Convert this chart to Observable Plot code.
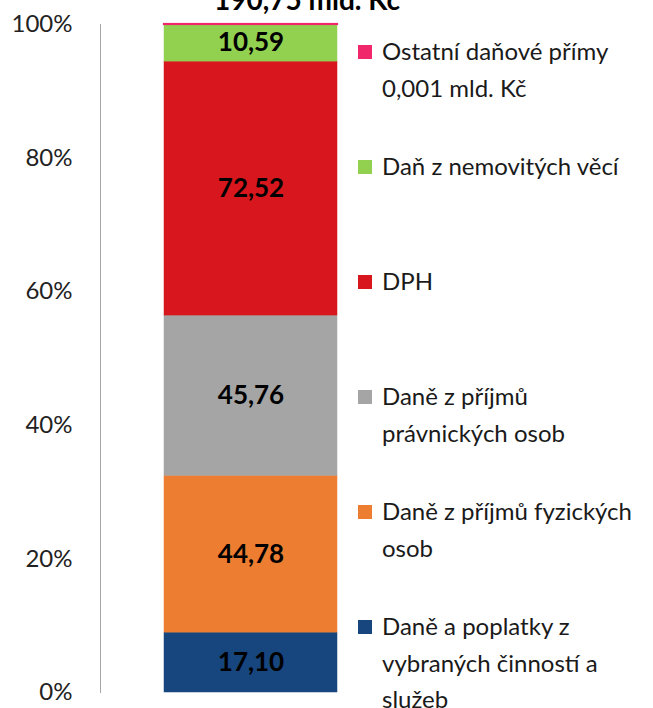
<!DOCTYPE html>
<html>
<head>
<meta charset="utf-8">
<script src="https://cdn.jsdelivr.net/npm/d3@7"></script>
<script src="https://cdn.jsdelivr.net/npm/@observablehq/plot@0.6"></script>
<style>
  body { margin: 0; background: #fff; }
  #wrap { position: relative; width: 653px; height: 708px; overflow: hidden; font-family: Lato, "Open Sans", sans-serif; }
  #legend { position: absolute; left: 0; top: 0; }
  .item { position: absolute; left: 358px; display: flex; align-items: flex-start; font-size: 24px; line-height: 36.5px; color: #1a1a1a; white-space: nowrap; }
  .sw { width: 14px; height: 14px; margin-top: 12px; margin-right: 10px; flex: none; }
</style>
</head>
<body>
<div id="wrap"><div id="legend"></div></div>
<script>
// Categories, bottom to top of the stack
const categories = [
  "Daně a poplatky z vybraných činností a služeb",
  "Daně z příjmů fyzických osob",
  "Daně z příjmů právnických osob",
  "DPH",
  "Daň z nemovitých věcí",
  "Ostatní daňové přímy"
];
// Values in mld. Kč
const values = [17.10, 44.78, 45.76, 72.52, 10.59, 0.001];
const colors = ["#17457E", "#ED7D31", "#A5A5A5", "#D7171D", "#92D050", "#F0276B"];
// Legend labels
const legendLabels = [
  "Daně a poplatky z<br>vybraných činností a<br>služeb",
  "Daně z příjmů fyzických<br>osob",
  "Daně z příjmů<br>právnických osob",
  "DPH",
  "Daň z nemovitých věcí",
  "Ostatní daňové přímy<br>0,001 mld. Kč"
];
const yTicks = [0, 0.2, 0.4, 0.6, 0.8, 1];

const data = categories.map((c, i) => ({name: c, value: values[i], order: i}));
const total = d3.sum(values);
const fmt = v => v.toFixed(2).replace(".", ",");
const titleText = fmt(total) + " mld. Kč";

const plot = Plot.plot({
  width: 653,
  height: 708,
  marginTop: 24,
  marginBottom: 16,
  marginLeft: 100,
  marginRight: 10,
  style: {fontFamily: "Lato, 'Open Sans', sans-serif", overflow: "visible"},
  x: {domain: ["total"], range: [164, 337], padding: 0, axis: null},
  y: {domain: [0, 1], ticks: yTicks},
  color: {domain: categories, range: colors},
  marks: [
    Plot.frame({anchor: "left", stroke: "#A6A6A6", strokeOpacity: 1}),
    Plot.axisY({ticks: yTicks, tickFormat: d => Math.round(d * 100) + "%", tickSize: 0, tickPadding: 28, fontSize: 24, fill: "#222", label: null}),
    Plot.barY(data, Plot.stackY({
      offset: "normalize", order: "order",
      x: () => "total", y: "value", fill: "name",
      stroke: "name", strokeWidth: d => d.value < 1 ? 2.2 : 0.5
    })),
    Plot.text(data, Plot.stackY({
      offset: "normalize", order: "order",
      x: () => "total", y: "value",
      text: d => d.value < 1 ? "" : fmt(d.value),
      fontSize: 26, fontWeight: "bold", fill: "#000"
    })),
    Plot.text([titleText], {
      x: () => "total", frameAnchor: "top", dx: 56, dy: -15,
      lineAnchor: "bottom", fontSize: 28, fontWeight: "bold", fill: "#000"
    })
  ]
});
document.getElementById("wrap").prepend(plot);

const legend = document.getElementById("legend");
const order = categories.map((c, i) => i).reverse();
order.forEach((idx, k) => {
  const it = document.createElement("div");
  it.className = "item";
  it.style.top = (33 + k * 115) + "px";
  it.innerHTML = `<div class="sw" style="background:${colors[idx]}"></div><div>${legendLabels[idx]}</div>`;
  legend.appendChild(it);
});
</script>
</body>
</html>
